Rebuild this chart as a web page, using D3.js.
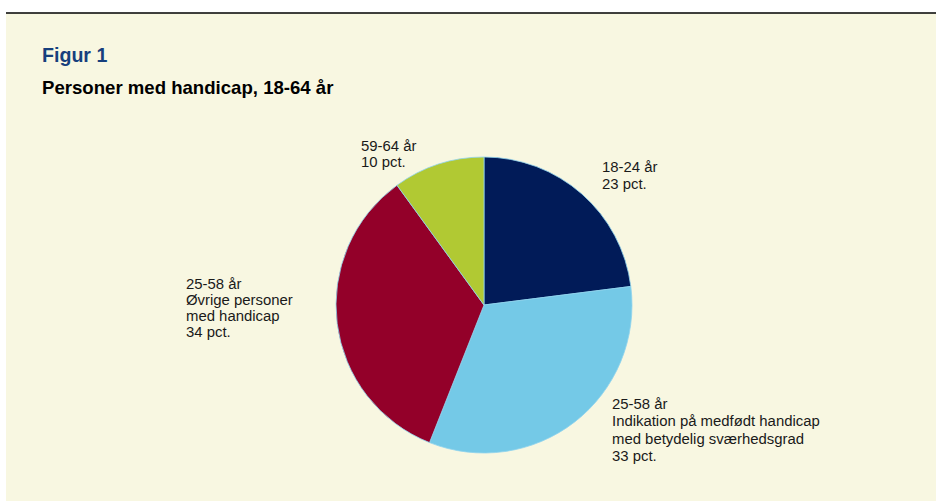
<!DOCTYPE html>
<html><head><meta charset="utf-8">
<script src="https://cdn.jsdelivr.net/npm/d3@7"></script>
<style>body{margin:0;background:#fff}svg{display:block;font-family:"Liberation Sans",Arial,sans-serif}</style>
</head><body><svg id="c" width="936" height="501"></svg>
<script>
const categories = ["18-24 år", "25-58 år medfødt", "25-58 år øvrige", "59-64 år"];
const values = [23, 33, 34, 10];
const colors = ["#011b58", "#74c9e7", "#930029", "#b1c933"];
const labels = [
  ["18-24 år", "23 pct."],
  ["25-58 år", "Indikation på medfødt handicap", "med betydelig sværhedsgrad", "33 pct."],
  ["25-58 år", "Øvrige personer", "med handicap", "34 pct."],
  ["59-64 år", "10 pct."]
];
const labelPos = [[602, 172, 17], [612, 408.5, 17.6], [186, 288.5, 16.2], [361, 150.5, 16.5]];

const svg = d3.select("#c");
svg.append("rect").attr("x", 6).attr("y", 13).attr("width", 930).attr("height", 488).attr("fill", "#f8f7e1");
svg.append("line").attr("x1", 6).attr("x2", 936).attr("y1", 13).attr("y2", 13).attr("stroke", "#000").attr("stroke-width", 1.3);
svg.append("text").attr("x", 42).attr("y", 62).text("Figur 1").attr("font-weight", "bold").attr("font-size", 19.6).attr("fill", "#173f7d");
svg.append("text").attr("x", 42).attr("y", 94).text("Personer med handicap, 18-64 år").attr("font-weight", "bold").attr("font-size", 18.6).attr("fill", "#000");

const cx = 484, cy = 305, r = 148;
const pie = d3.pie().sort(null).value(d => d)(values);
const arc = d3.arc().innerRadius(0).outerRadius(r);
const g = svg.append("g").attr("transform", `translate(${cx},${cy})`);
g.selectAll("path").data(pie).join("path").attr("d", arc)
  .attr("fill", (d, i) => colors[i]).attr("stroke", "#8fd3ee").attr("stroke-width", 0.8);

labels.forEach((lines, i) => {
  const [x, y, lh] = labelPos[i];
  const t = svg.append("text").attr("x", x).attr("y", y).attr("font-size", 14.9).attr("fill", "#1a1a1a");
  lines.forEach((l, j) => t.append("tspan").attr("x", x).attr("dy", j === 0 ? 0 : lh).text(l));
});
</script></body></html>
